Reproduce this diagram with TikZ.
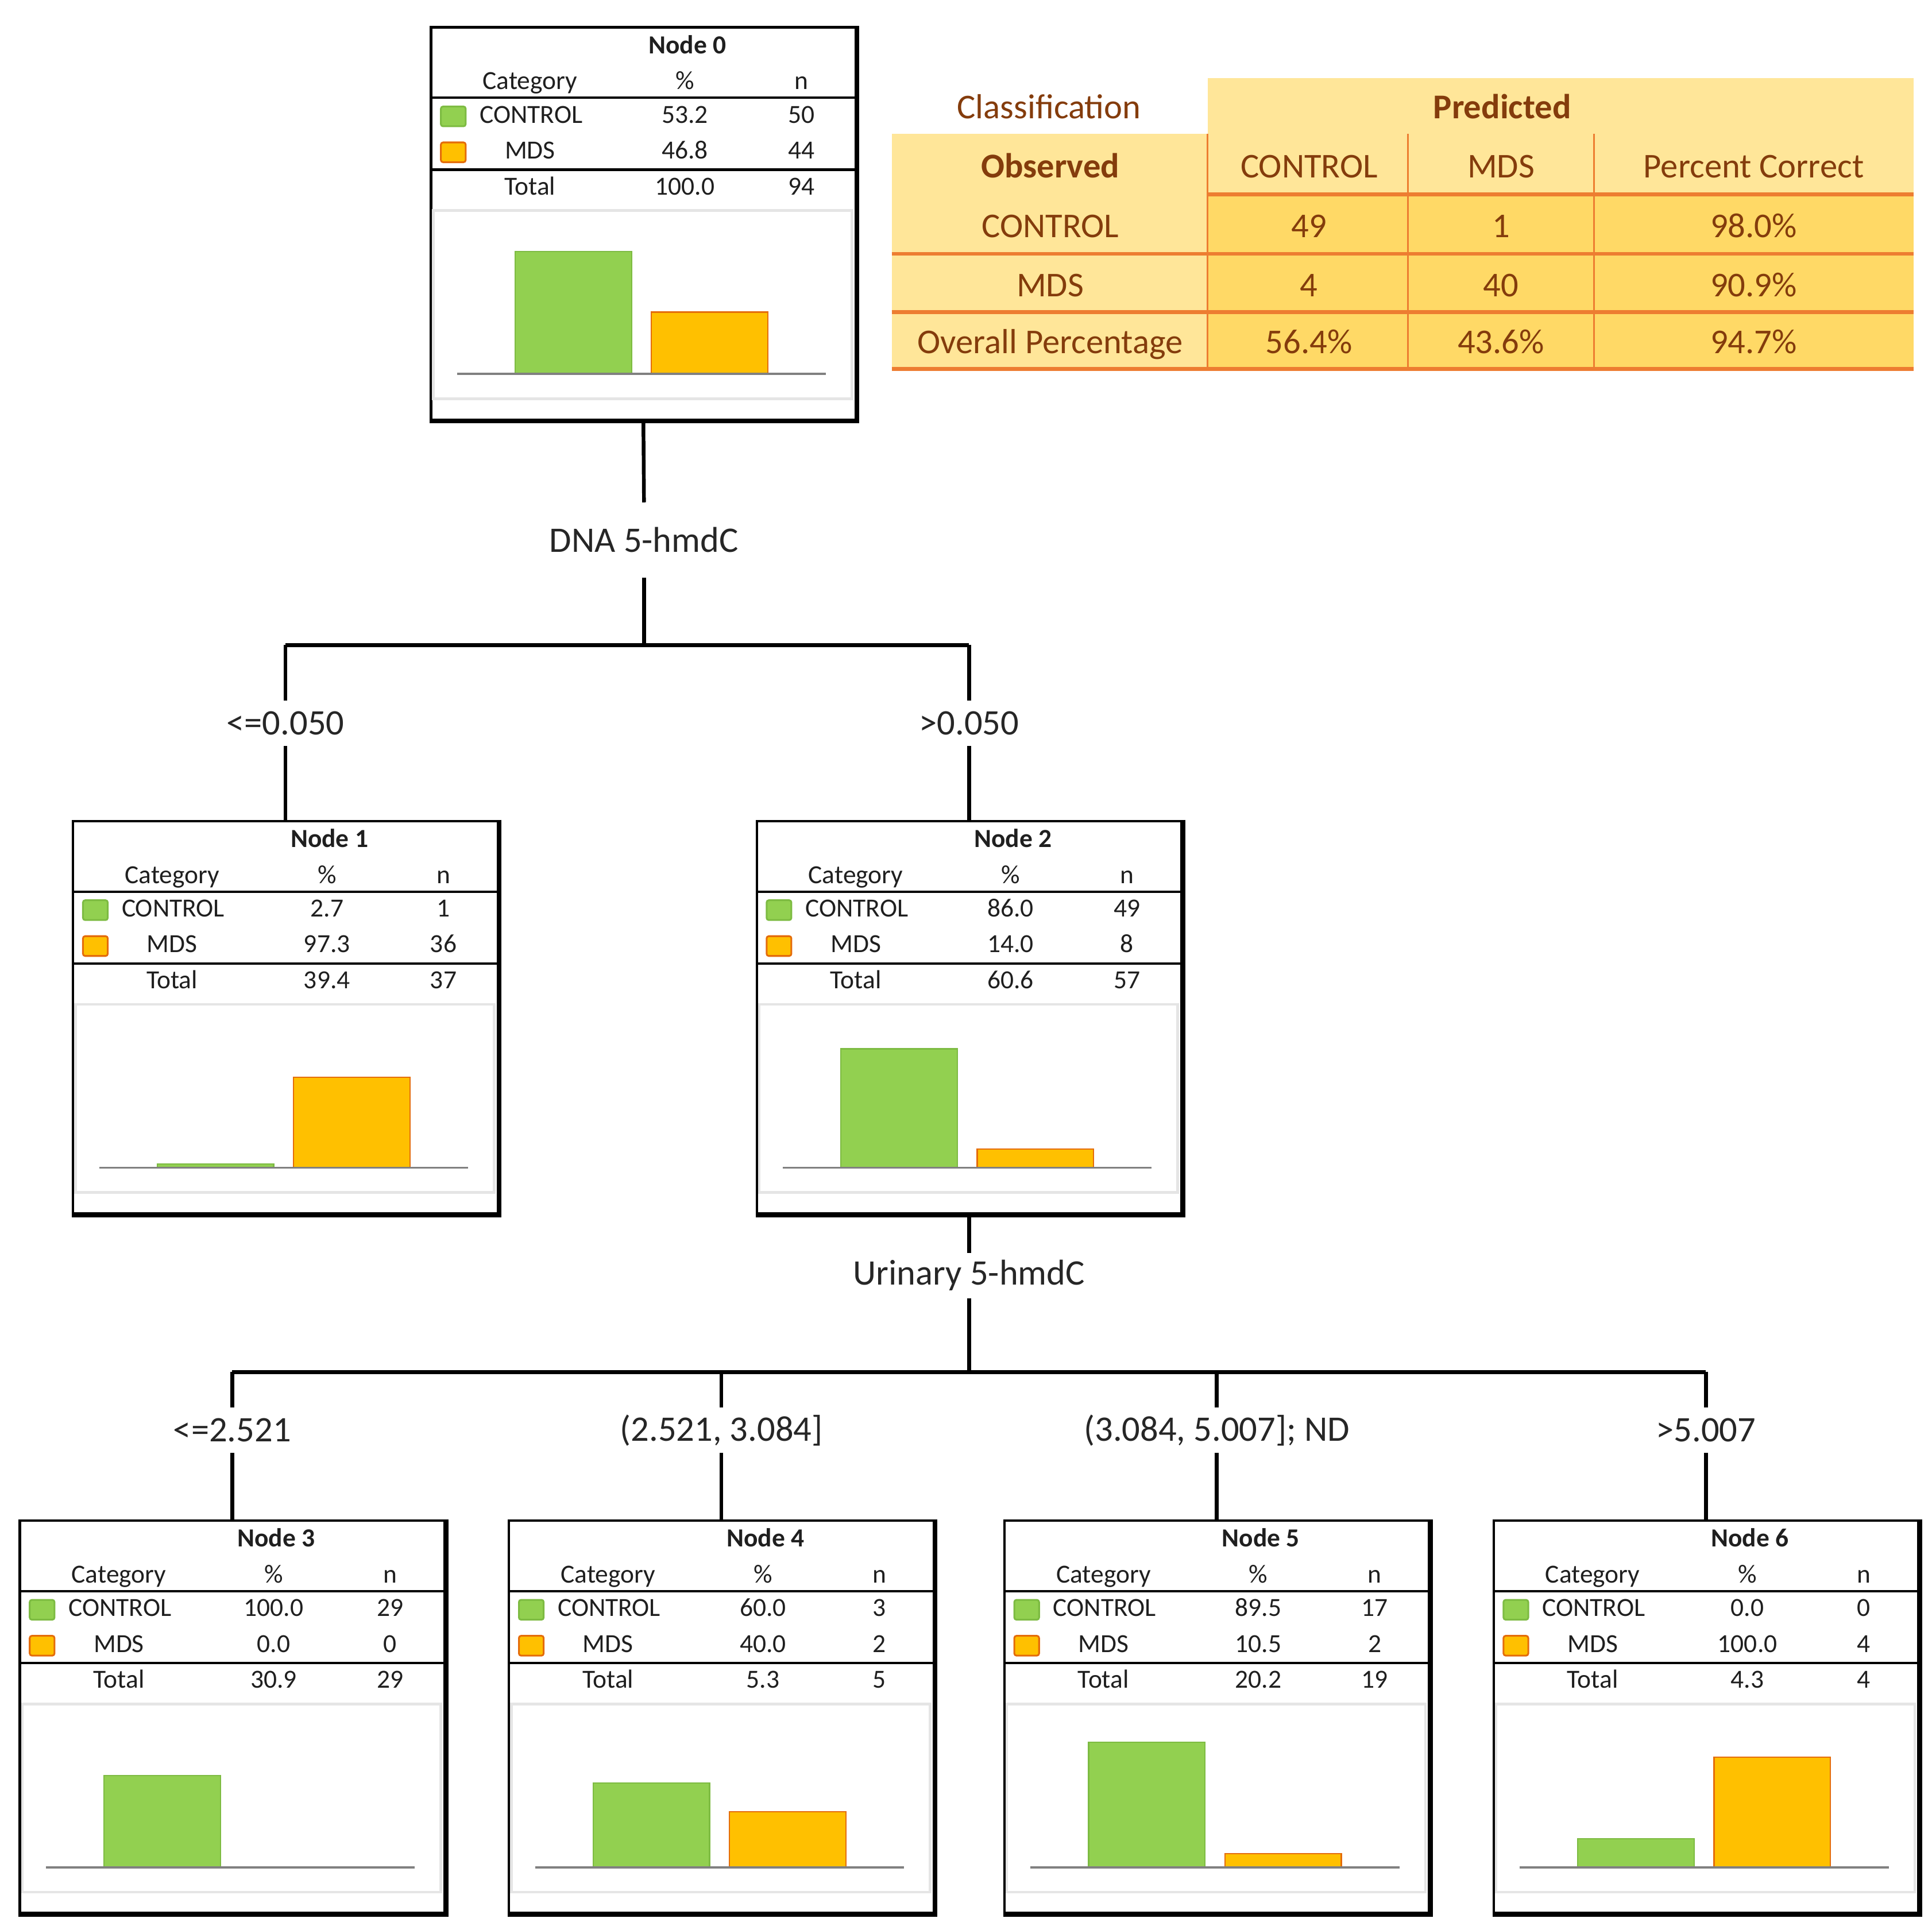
\documentclass[tikz,border=0pt]{standalone}
\usepackage{fontspec}
\setmainfont{Carlito}
\definecolor{barGreen}{HTML}{92D050}
\definecolor{barGreenEdge}{HTML}{7DBB42}
\definecolor{barOrange}{HTML}{FFC000}
\definecolor{barOrangeEdge}{HTML}{E46C0A}
\definecolor{tabLight}{HTML}{FFE699}
\definecolor{tabDark}{HTML}{FFD966}
\definecolor{tabLine}{HTML}{ED7D31}
\definecolor{tabText}{HTML}{843C0C}
\tikzset{
  treebox/.style={draw, line width=1.1pt, minimum width=6.86cm, minimum height=6.34cm, inner sep=0pt},
  cell/.style={font=\fontsize{12}{14}\selectfont, inner sep=0pt, text height=8.5pt, text depth=2.5pt, text=black!88},
  ttl/.style={cell, font=\fontsize{12}{14}\selectfont\bfseries},
  rule/.style={line width=1.1pt},
  panel/.style={draw=black!10, line width=1.2pt},
  axisline/.style={draw=black!50, line width=1pt},
  gbar/.style={fill=barGreen, draw=barGreenEdge, line width=0.6pt},
  obar/.style={fill=barOrange, draw=barOrangeEdge, line width=0.6pt},
  gkey/.style={fill=barGreen, draw=barGreenEdge, line width=0.8pt, rounded corners=1pt},
  okey/.style={fill=barOrange, draw=barOrangeEdge, line width=0.8pt, rounded corners=1pt},
  branch/.style={line width=1.7pt},
  splitlbl/.style={font=\fontsize{16.5}{19}\selectfont, inner sep=0pt, minimum height=0.72cm, text=black!85},
  tabtxt/.style={font=\fontsize{16}{19}\selectfont, text=tabText, inner sep=0pt, text height=11pt, text depth=3.5pt},
  tabbold/.style={tabtxt, font=\fontsize{16}{19}\selectfont\bfseries},
  tabrule/.style={draw=tabLine, line width=1.8pt},
  tabvrule/.style={draw=tabLine, line width=0.8pt},
}
\begin{document}
\begin{tikzpicture}[x=0.02cm, y=-0.02cm]
\useasboundingbox (0,0) rectangle (1560,1555);

% tree nodes
\foreach \nm/\x/\y/\k/\cp/\cn/\mp/\mn/\tp/\tn/\gh/\oh in {
  n0/348/22/0/53.2/50/46.8/44/100.0/94/99/50,
  n1/59/663/1/2.7/1/97.3/36/39.4/37/3/73,
  n2/611/663/2/86.0/49/14.0/8/60.6/57/96/15,
  n3/16/1228/3/100.0/29/0.0/0/30.9/29/74/0,
  n4/411/1228/4/60.0/3/40.0/2/5.3/5/68/45,
  n5/811/1228/5/89.5/17/10.5/2/20.2/19/101/11,
  n6/1206/1228/6/0.0/0/100.0/4/4.3/4/23/89}
{
\begin{scope}[shift={(\x,\y)}]
  \node[treebox] (\nm) at (171.5,158.5) {};
  \draw[line width=2.3pt] (\nm.north east) -- (\nm.south east) -- (\nm.south west);
  \node[ttl] (\nm-title) at (207,16) {Node \k};
  \node[cell] (\nm-cat) at (80,45) {Category};
  \node[cell] (\nm-pct) at (205,45) {\%};
  \node[cell] (\nm-n) at (299,45) {n};
  \draw[rule] (0,57) -- (343,57);
  \draw[gkey] (8,64) rectangle (28,80);
  \node[cell, anchor=west] (\nm-c) at (39,72) {CONTROL};
  \node[cell] (\nm-cp) at (205,72) {\cp};
  \node[cell] (\nm-cn) at (299,72) {\cn};
  \draw[okey] (8,93) rectangle (28,109);
  \node[cell] (\nm-m) at (80,101) {MDS};
  \node[cell] (\nm-mp) at (205,101) {\mp};
  \node[cell] (\nm-mn) at (299,101) {\mn};
  \draw[rule] (0,115) -- (343,115);
  \node[cell] (\nm-t) at (80,130) {Total};
  \node[cell] (\nm-tp) at (205,130) {\tp};
  \node[cell] (\nm-tn) at (299,130) {\tn};
  % bar chart
  \draw[panel] (2,148) rectangle (340,300);
  \draw[gbar] (68,280) rectangle (162,{280-\gh});
  \ifnum\oh>0 \draw[obar] (178,280) rectangle (272,{280-\oh}); \fi
  \draw[axisline] (21,280) -- (319,280);
\end{scope}
}

% splits
\node[splitlbl, minimum height=1.2cm] (dna) at (520,436) {DNA 5-hmdC};
\coordinate (h0) at (520,521);
\draw[branch] (n0.south) -- (dna.north);
\draw[branch] (dna.south) -- (h0);
\draw[branch] (h0 -| n1.north) -- (h0 -| n2.north);
\node[splitlbl] (le1) at (230.5,584) {<=0.050};
\node[splitlbl] (gt1) at (782.5,584) {>0.050};
\draw[branch] (h0 -| n1.north) -- (le1.north);
\draw[branch] (le1.south) -- (n1.north);
\draw[branch] (h0 -| n2.north) -- (gt1.north);
\draw[branch] (gt1.south) -- (n2.north);

\node[splitlbl] (uri) at (782.5,1030) {Urinary 5-hmdC};
\coordinate (h1) at (782.5,1108);
\draw[branch] (n2.south) -- (uri.north);
\draw[branch] (uri.south) -- (h1);
\draw[branch] (h1 -| n3.north) -- (h1 -| n6.north);
\node[splitlbl] (le2) at (187.5,1155) {<=2.521};
\node[splitlbl] (mid2) at (582.5,1155) {(2.521, 3.084]};
\node[splitlbl] (mid3) at (982.5,1155) {(3.084, 5.007]; ND};
\node[splitlbl] (gt2) at (1377.5,1155) {>5.007};
\foreach \lb/\nd in {le2/n3, mid2/n4, mid3/n5, gt2/n6}{
  \draw[branch] (h1 -| \nd.north) -- (\lb.north);
  \draw[branch] (\lb.south) -- (\nd.north);
}

% classification table
\fill[tabLight] (975,63) rectangle (1545,108);
\fill[tabLight] (720,108) rectangle (1545,157);
\fill[tabLight] (720,157) rectangle (975,298);
\fill[tabDark] (975,157) rectangle (1545,298);
\draw[tabvrule] (975,108) -- (975,298);
\draw[tabvrule] (1137,108) -- (1137,298);
\draw[tabvrule] (1287,108) -- (1287,298);
\draw[tabrule] (975,157) -- (1545,157);
\draw[tabrule] (720,205) -- (1545,205);
\draw[tabrule] (720,252) -- (1545,252);
\draw[tabrule] (720,298) -- (1545,298);
\node[tabtxt] (cls) at (847,89) {Classification};
\node[tabbold] (pred) at (1213,89) {Predicted};
\node[tabbold] (obs) at (848,137) {Observed};
\node[tabtxt] (hc) at (1057,137) {CONTROL};
\node[tabtxt] (hm) at (1212,137) {MDS};
\node[tabtxt] (hp) at (1416,137) {Percent Correct};
\foreach \rn/\ry/\lab/\a/\b/\c in {
  r1/185/CONTROL/49/1/98.0\%,
  r2/233/MDS/4/40/90.9\%,
  r3/279/Overall Percentage/56.4\%/43.6\%/94.7\%}
{
  \node[tabtxt] (\rn-l) at (848,\ry) {\lab};
  \node[tabtxt] (\rn-a) at (1057,\ry) {\a};
  \node[tabtxt] (\rn-b) at (1212,\ry) {\b};
  \node[tabtxt] (\rn-c) at (1416,\ry) {\c};
}
\end{tikzpicture}
\end{document}
